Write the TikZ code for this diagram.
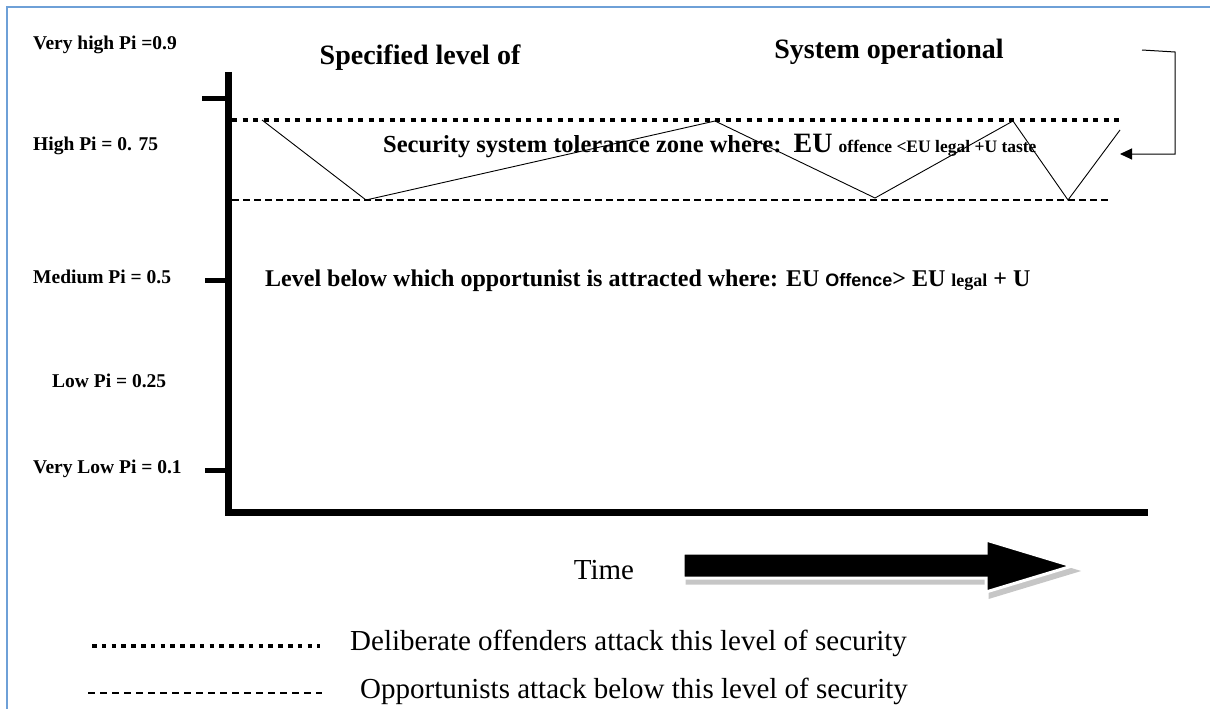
\documentclass[tikz,border=0pt]{standalone}
\usepackage{fontspec}
\setmainfont{Liberation Serif}
\setsansfont{Liberation Sans}
\usetikzlibrary{positioning,arrows.meta}
\definecolor{framecol}{RGB}{110,160,215}
\tikzset{
  pilabel/.style={font=\bfseries\fontsize{19.5}{22}\selectfont, anchor=west, inner sep=0pt},
  heading/.style={font=\bfseries\fontsize{28}{30}\selectfont},
  zonetext/.style={font=\bfseries\fontsize{24.5}{26}\selectfont, anchor=west, inner sep=0pt},
  legendtext/.style={font=\fontsize{29}{31}\selectfont, anchor=west, inner sep=0pt},
  attackline/.style={line width=4.7pt, dash pattern=on 5pt off 5.5pt},
  oppline/.style={line width=1.2pt, dash pattern=on 6.7pt off 4.3pt},
  tickmark/.style={line width=5pt},
}
\begin{document}
\begin{tikzpicture}[x=1pt,y=-1pt]
\useasboundingbox (0,0) rectangle (1210,709);
% frame
\draw[framecol, line width=2pt] (7,709) -- (7,7) -- (1210,7);

% axes and ticks
\draw[line width=7pt, miter limit=2] (228,72) -- (228,512) -- (1148,512);
\draw[tickmark] (202,98) -- (228,98);
\draw[tickmark] (205,280) -- (228,280);
\draw[tickmark] (205,470) -- (228,470);

% probability labels
\node[pilabel] (vhigh) at (33,45) {Very high Pi =0.9};
\node[pilabel] (high) at (33,146) {High Pi = 0. 75};
\node[pilabel] (medium) at (33,277) {Medium Pi = 0.5};
\node[pilabel] (low) at (52,381) {Low Pi = 0.25};
\node[pilabel] (vlow) at (33,469) {Very Low Pi = 0.1};

% headings
\node[heading] (spec) at (420,58) {Specified level of};
\node[heading] (sysop) at (889,52) {System operational};

% security levels
\draw[attackline] (232,120) -- (1120,120);
\draw[oppline] (232,200) -- (1110,200);
\coordinate (z0) at (262,120);
\coordinate (z1) at (366,200);
\coordinate (z2) at (715,121);
\coordinate (z3) at (875,198);
\coordinate (z4) at (1013,121);
\coordinate (z5) at (1068,200);
\coordinate (z6) at (1120,130);
\draw[line width=0.9pt] (z0) -- (z1) -- (z2) -- (z3) -- (z4) -- (z5) -- (z6);

\node[zonetext] (tol) at (383,146) {Security system tolerance zone where:\ \ {\fontsize{28}{30}\selectfont EU} {\fontsize{17.5}{19}\selectfont offence <EU legal +U taste}};
\node[zonetext, font=\bfseries\fontsize{24}{26}\selectfont] (below) at (265,281) {Level below which opportunist is attracted where: EU {\sffamily\fontsize{18}{20}\selectfont Offence}> EU {\fontsize{18}{20}\selectfont legal} + U};

% bracket arrow
\coordinate (brtop) at (1142,50);
\coordinate (brend) at (1120,154);
\draw[-{Triangle[length=12pt,width=11pt]}, line width=1pt] (brtop) -- (1175,52) -- (1175,154) -- (brend);

% time arrow
\node[font=\fontsize{29}{31}\selectfont] (time) at (604,570) {Time};
\draw[fill=gray!45, draw=gray!45, line width=3pt] (687,558) -- (990,558) -- (990,545) -- (1076,571) -- (990,597) -- (990,583) -- (687,583) -- cycle;
\draw[fill=black, draw=white, line width=3pt] (683,553) -- (986,553) -- (986,540) -- (1072,566) -- (986,592) -- (986,578) -- (683,578) -- cycle;

% legend
\coordinate (dl0) at (92,646);
\coordinate (dl1) at (320,646);
\coordinate (ol0) at (88,693);
\coordinate (ol1) at (322,693);
\draw[attackline, dash pattern=on 4.6pt off 5.2pt] (dl0) -- (dl1);
\draw[oppline, dash pattern=on 7pt off 5pt] (ol0) -- (ol1);
\node[legendtext] (dlegend) at (350,643) {Deliberate offenders attack this level of security};
\node[legendtext] (olegend) at (360,691) {Opportunists attack below this level of security};
\end{tikzpicture}
\end{document}
